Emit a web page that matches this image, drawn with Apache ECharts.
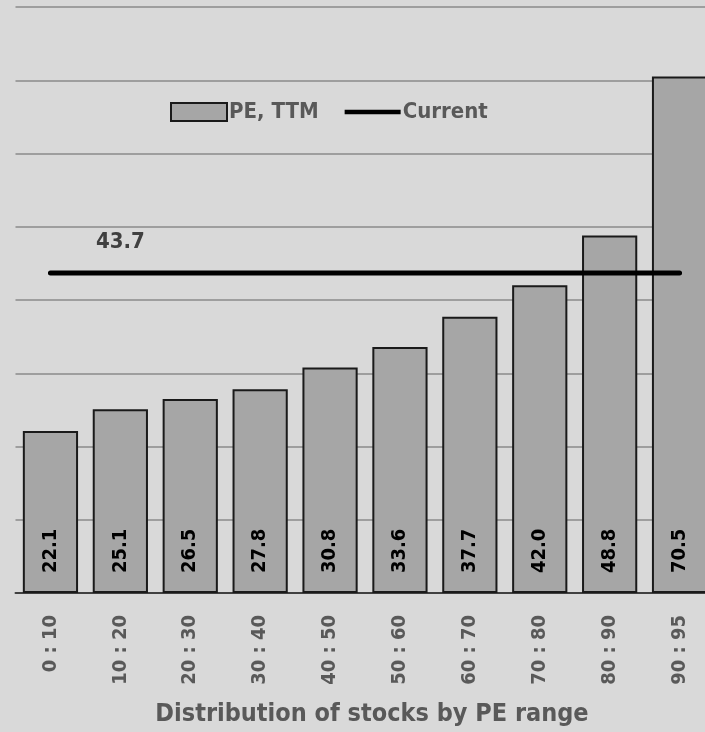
<!DOCTYPE html>
<html>
<head>
    <meta charset="utf-8">
    <title>PE distribution</title>
    <script src="https://cdn.jsdelivr.net/npm/echarts@6/dist/echarts.min.js"></script>
    <style>
        html, body { margin: 0; padding: 0; background: #d9d9d9; }
        #main { width: 705px; height: 732px; }
    </style>
</head>
<body>
    <div id="main"></div>
    <script>
        var categories = ['0 : 10', '10 : 20', '20 : 30', '30 : 40', '40 : 50', '50 : 60', '60 : 70', '70 : 80', '80 : 90', '90 : 95'];
        var peTTM = [22.1, 25.1, 26.5, 27.8, 30.8, 33.6, 37.7, 42.0, 48.8, 70.5];
        var current = [43.7, 43.7, 43.7, 43.7, 43.7, 43.7, 43.7, 43.7, 43.7, 43.7];

        var font = "'Liberation Sans Narrow', 'DejaVu Sans Condensed', sans-serif";

        var myChart = echarts.init(document.getElementById('main'));

        var option = {
            backgroundColor: '#d9d9d9',
            animation: false,
            textStyle: { fontFamily: font },
            grid: { left: 15.5, width: 699, top: 7, bottom: 139, containLabel: false, outerBoundsMode: 'none' },
            legend: {
                top: 96,
                left: 165,
                itemWidth: 56,
                itemHeight: 18,
                itemGap: 26,
                textStyle: { fontFamily: font, fontSize: 22, fontWeight: 'bold', color: '#595959', padding: [0, 0, 0, -3] },
                data: [
                    { name: 'PE, TTM', icon: 'rect' },
                    { name: 'Current', icon: 'path://M0,0 L0,0.01 L0.01,0.01 Z M0,6.5 L60,6.5 L60,11.5 L0,11.5 Z M60,18 L60,17.99 L59.99,17.99 Z' }
                ]
            },
            xAxis: {
                type: 'category',
                data: categories,
                name: 'Distribution of stocks by PE range',
                nameLocation: 'middle',
                nameGap: 109,
                nameMoveOverlap: false,
                nameTextStyle: { fontFamily: font, fontSize: 25, fontWeight: 'bold', color: '#595959', padding: [0, 0, 0, 14] },
                axisLine: { lineStyle: { color: '#404040', width: 2 } },
                axisTick: { show: false },
                axisLabel: { rotate: 90, margin: 22, fontSize: 20, fontWeight: 'bold', color: '#595959', fontFamily: font }
            },
            yAxis: {
                type: 'value',
                min: 0,
                max: 80,
                interval: 10,
                axisLabel: { show: false },
                axisLine: { show: false },
                axisTick: { show: false },
                splitLine: { lineStyle: { color: '#8a8a8a', width: 1.5 } }
            },
            series: [
                {
                    name: 'PE, TTM',
                    type: 'bar',
                    data: peTTM,
                    barCategoryGap: '21%',
                    itemStyle: { color: '#a6a6a6', borderColor: '#1a1a1a', borderWidth: 2 },
                    label: {
                        show: true,
                        position: 'insideBottom',
                        rotate: 90,
                        align: 'left',
                        verticalAlign: 'middle',
                        distance: 20,
                        fontSize: 20,
                        fontWeight: 'bold',
                        color: '#000',
                        fontFamily: font,
                        formatter: function (p) { return p.value.toFixed(1); }
                    },
                    z: 2
                },
                {
                    name: 'Current',
                    type: 'line',
                    data: current,
                    symbol: 'none',
                    lineStyle: { color: '#000', width: 5, cap: 'round' },
                    itemStyle: { color: '#000' },
                    markPoint: {
                        symbol: 'circle',
                        symbolSize: 0,
                        data: [{ coord: [categories[1], current[1]], value: current[1] }],
                        label: {
                            show: true,
                            position: 'top',
                            distance: 20,
                            fontSize: 22,
                            fontWeight: 'bold',
                            color: '#404040',
                            fontFamily: font,
                            formatter: function (p) { return Number(p.value).toFixed(1); }
                        }
                    },
                    z: 3
                }
            ]
        };

        myChart.setOption(option);
    </script>
</body>
</html>
